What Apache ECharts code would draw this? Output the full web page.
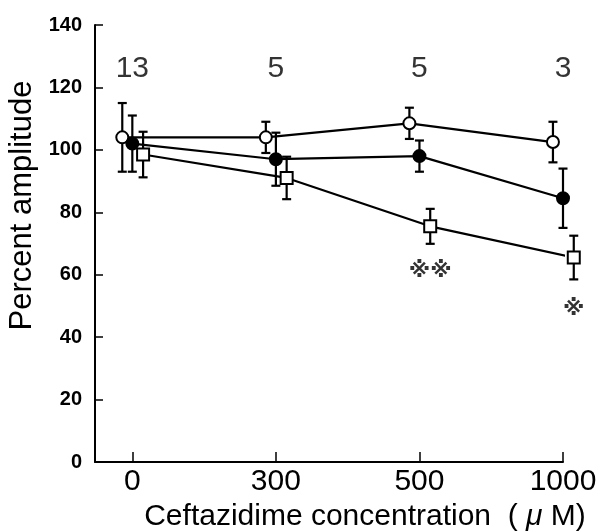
<!DOCTYPE html>
<html>
<head>
<meta charset="utf-8">
<script src="https://cdn.jsdelivr.net/npm/echarts@6/dist/echarts.min.js"></script>
<style>html,body{margin:0;padding:0;background:#fff;}#main{width:599px;height:532px;}</style>
</head>
<body>
<div id="main"></div>
<script>
const categories = ['0', '300', '500', '1000'];
const nLabels = ['13', '5', '5', '3'];
const nLabelLevel = 126;
const openMean = [104, 104, 108.5, 102.5];
const openErr = [11, 5, 5, 6.5];
const filledMean = [102, 97, 98, 84.5];
const filledErr = [9, 8.5, 5, 9.5];
const squareMean = [98.5, 91, 75.5, 65.5];
const squareErr = [7.3, 6.8, 5.6, 7];
const sigLabels = ['', '', '※※', '※'];
const sigLevel = [null, null, 61, 49];
const yTicks = [0, 20, 40, 60, 80, 100, 120, 140];

const FONT = 'Liberation Sans, Arial, Helvetica, sans-serif';
const offsets = [-0.07, 0, 0.075];

function pts(mean, k) { return mean.map((v, i) => [i + offsets[k], v]); }
function errData(mean, err, k) { return mean.map((v, i) => [i + offsets[k], v - err[i], v + err[i]]); }

function errSeries(mean, err, k) {
  return {
    type: 'custom', z: 1, clip: false,
    data: errData(mean, err, k),
    renderItem: function (params, api) {
      const x = api.value(0);
      const lo = api.coord([x, api.value(1)]);
      const hi = api.coord([x, api.value(2)]);
      const w = 4.5;
      const st = { stroke: '#000', lineWidth: 2.2 };
      return { type: 'group', children: [
        { type: 'line', shape: { x1: lo[0], y1: lo[1], x2: hi[0], y2: hi[1] }, style: st },
        { type: 'line', shape: { x1: lo[0] - w, y1: lo[1], x2: lo[0] + w, y2: lo[1] }, style: st },
        { type: 'line', shape: { x1: hi[0] - w, y1: hi[1], x2: hi[0] + w, y2: hi[1] }, style: st }
      ]};
    }
  };
}

function lineSeries(mean, k, symbol, fill, size) {
  return {
    type: 'line', z: 3, clip: false,
    data: pts(mean, k),
    symbol: symbol, symbolSize: size, showAllSymbol: true,
    lineStyle: { color: '#000', width: 2.2 },
    itemStyle: { color: fill, borderColor: '#000', borderWidth: 2 },
    emphasis: { disabled: true },
    animation: false
  };
}

const chart = echarts.init(document.getElementById('main'), null, { renderer: 'canvas' });
chart.setOption({
  animation: false,
  backgroundColor: '#fff',
  grid: { left: 95, right: 36, top: 25, bottom: 70, containLabel: false, outerBoundsMode: 'none' },
  xAxis: {
    type: 'value', min: -0.26, max: 3,
    axisLine: { onZero: false, lineStyle: { color: '#000', width: 2 } },
    axisTick: { show: true, inside: true, length: 10, customValues: [0, 1, 2, 3], lineStyle: { color: '#000', width: 1.5 } },
    axisLabel: { customValues: [0, 1, 2, 3], formatter: v => categories[Math.round(v)], color: '#000', fontFamily: FONT, fontSize: 30, margin: 5 },
    splitLine: { show: false },
    name: 'Ceftazidime concentration  ( {mu|μ} M)',
    nameLocation: 'middle', nameGap: 32,
    nameTextStyle: { color: '#000', fontFamily: FONT, fontSize: 30, padding: [0, 0, 0, 72], rich: { mu: { fontFamily: FONT, fontSize: 30, fontStyle: 'italic', color: '#000' } } }
  },
  yAxis: {
    type: 'value', min: 0, max: 140, interval: 20,
    axisLine: { show: true, onZero: false, lineStyle: { color: '#000', width: 2 } },
    axisTick: { show: true, inside: true, length: 8, lineStyle: { color: '#000', width: 1.5 } },
    axisLabel: { color: '#000', fontFamily: FONT, fontSize: 20, fontWeight: 'bold', margin: 13 },
    splitLine: { show: false },
    name: 'Percent amplitude', nameLocation: 'middle', nameGap: 55,
    nameTextStyle: { color: '#000', fontFamily: FONT, fontSize: 31, padding: [0, 0, 0, 76] }
  },
  series: [
    errSeries(openMean, openErr, 0),
    errSeries(filledMean, filledErr, 1),
    errSeries(squareMean, squareErr, 2),
    lineSeries(openMean, 0, 'circle', '#fff', 12),
    lineSeries(filledMean, 1, 'circle', '#000', 12),
    lineSeries(squareMean, 2, 'rect', '#fff', 12),
    {
      type: 'scatter', symbolSize: 0, clip: false, z: 4,
      data: nLabels.map((t, i) => ({ value: [i, nLabelLevel], label: { formatter: t } })),
      label: { show: true, position: 'inside', color: '#000', fontFamily: FONT, fontSize: 30 }
    },
    {
      type: 'scatter', symbolSize: 0, clip: false, z: 4,
      data: sigLabels.map((t, i) => t ? ({ value: [i + offsets[2], sigLevel[i]], label: { formatter: t } }) : null).filter(d => d),
      label: { show: true, position: 'inside', color: '#000', fontFamily: 'DejaVu Sans, Noto Sans CJK JP, sans-serif', fontWeight: 'bold', fontSize: 22 }
    }
  ]
});
</script>
</body>
</html>
